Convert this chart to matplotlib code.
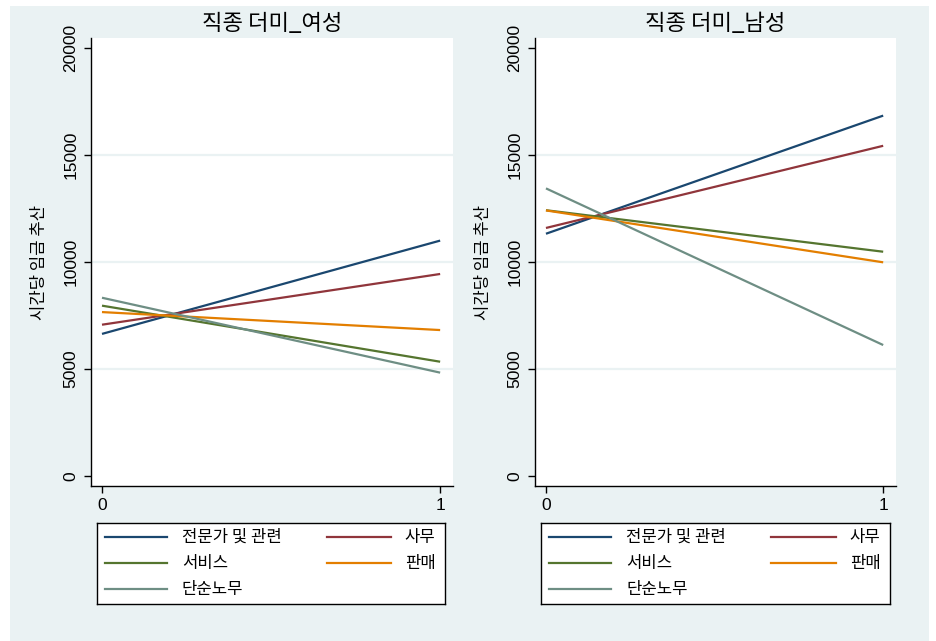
import matplotlib
matplotlib.use("Agg")
import matplotlib.pyplot as plt
from matplotlib.patches import Rectangle

plt.rcParams["font.family"] = ["Noto Sans CJK KR", "DejaVu Sans"]

# 직종 더미 (0 -> 1) 에 따른 시간당 임금 추산
DUMMY = [0, 1]
CATEGORIES = ["전문가 및 관련", "사무", "서비스", "판매", "단순노무"]
COLORS = ["#1a476f", "#90353b", "#55752f", "#e37e00", "#6e8e84"]

WOMEN = {
    "전문가 및 관련": [6640, 11000],
    "사무": [7070, 9440],
    "서비스": [7960, 5340],
    "판매": [7660, 6820],
    "단순노무": [8330, 4830],
}
MEN = {
    "전문가 및 관련": [11320, 16840],
    "사무": [11590, 15430],
    "서비스": [12420, 10480],
    "판매": [12410, 9985],
    "단순노무": [13440, 6120],
}
PANELS = [("직종 더미_여성", WOMEN), ("직종 더미_남성", MEN)]
Y_TICKS = [0, 5000, 10000, 15000, 20000]
X_TICKS = [0, 1]

BG = "#eaf2f3"
W, H = 936, 641


def fx(px):
    return px / W


def fy(px):
    return 1 - px / H


def tracer_panneau(fig, left_px, right_px, titre, donnees):
    ax = fig.add_axes([fx(left_px), fy(486), fx(right_px - left_px), 448 / H])
    for cat, col in zip(CATEGORIES, COLORS):
        ax.plot(DUMMY, donnees[cat], color=col, lw=1.6, solid_capstyle="butt")
    ax.set_xlim(-0.0325, 1.038)
    ax.set_ylim(-467, 20467)
    ax.set_xticks(X_TICKS)
    ax.set_yticks(Y_TICKS)
    ax.set_yticklabels([str(v) for v in Y_TICKS], rotation=90, va="center")
    ax.tick_params(axis="both", length=5, width=1, labelsize=12.5, pad=4)
    for lab in ax.get_xticklabels() + ax.get_yticklabels():
        lab.set_family(["Liberation Sans", "DejaVu Sans"])
    ax.grid(axis="y", color=BG, lw=1.6)
    grid = ax.get_ygridlines()
    grid[0].set_visible(False)
    grid[-1].set_visible(False)
    ax.set_axisbelow(True)
    for s in ["top", "right"]:
        ax.spines[s].set_visible(False)
    for s in ["left", "bottom"]:
        ax.spines[s].set_linewidth(1.0)
    ax.set_ylabel("시간당 임금 추산", fontsize=12)
    ax.yaxis.set_label_coords(-0.12, 0.5)
    ax.set_title(titre, fontsize=16, pad=6)
    return ax


def tracer_legende(fig, left_px, right_px):
    lg = fig.add_axes([fx(left_px), fy(604), fx(right_px - left_px), 81 / H])
    lg.set_xlim(0, 1)
    lg.set_ylim(0, 1)
    lg.set_xticks([])
    lg.set_yticks([])
    for s in lg.spines.values():
        s.set_linewidth(1.0)
    rows = [0.827, 0.506, 0.185]
    for i, (cat, col) in enumerate(zip(CATEGORIES, COLORS)):
        r, c = divmod(i, 2)
        y = rows[r]
        if c == 0:
            lg.plot([0.023, 0.202], [y, y], color=col, lw=1.6)
            lg.text(0.244, y, cat, fontsize=12, va="center", ha="left")
        else:
            lg.plot([0.66, 0.844], [y, y], color=col, lw=1.6)
            lg.text(0.973, y, cat, fontsize=12, va="center", ha="right")


fig = plt.figure(figsize=(W / 100, H / 100), dpi=100, facecolor="white")
fig.patches.append(Rectangle((fx(10), 0), fx(919), 1 - 6 / H, transform=fig.transFigure,
                             facecolor=BG, edgecolor="none", zorder=-10))

tracer_panneau(fig, 91, 453, *PANELS[0])
tracer_panneau(fig, 535, 896, *PANELS[1])
tracer_legende(fig, 97, 445)
tracer_legende(fig, 541, 890)

fig.savefig("out.png", dpi=100, facecolor="white")
